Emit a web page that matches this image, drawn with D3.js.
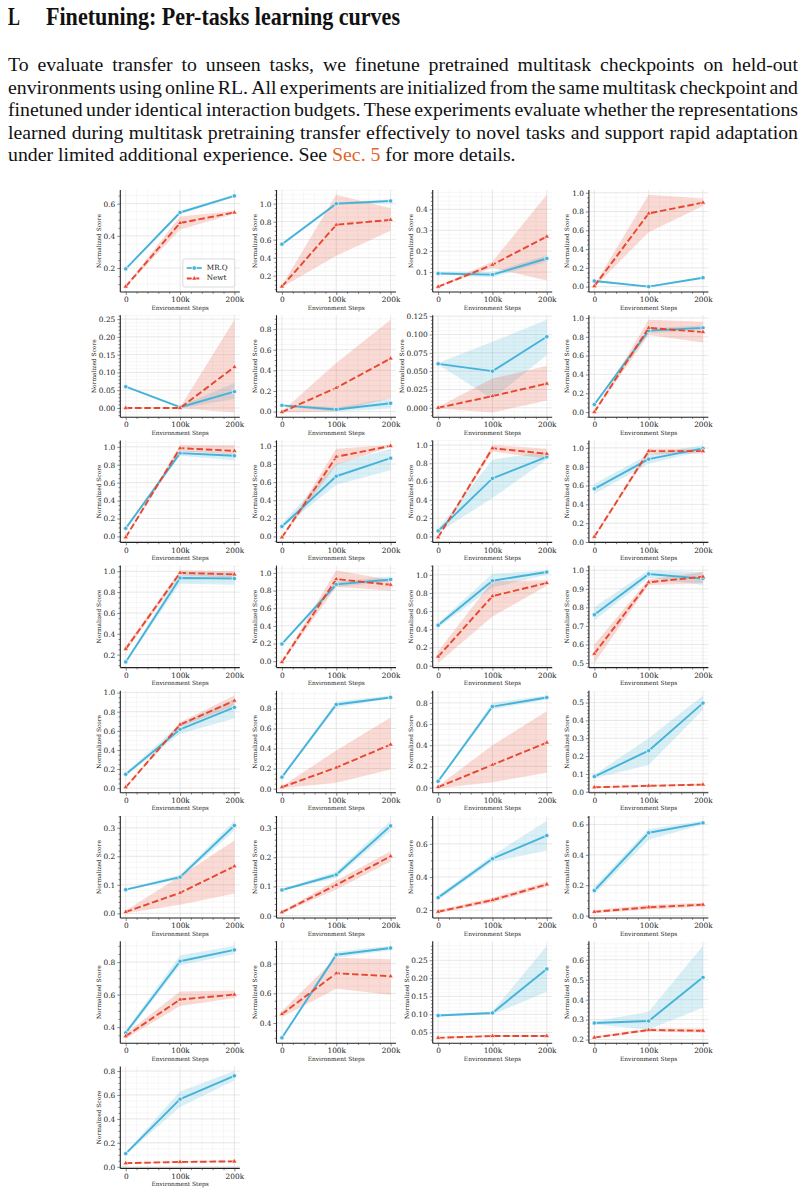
<!DOCTYPE html>
<html><head><meta charset="utf-8">
<script src="https://cdn.jsdelivr.net/npm/d3@7"></script>
<style>body{margin:0;background:#fff}svg{display:block}</style>
</head><body><svg id="c" width="806" height="1192"></svg>
<script>
// ---------------- data ----------------
const steps = [0, 100000, 200000];
const xTickLabels = ["0", "100k", "200k"];
const seriesNames = ["MR.Q", "Newt"];

const mrqMean = [
 [0.195,0.545,0.648],[0.55,1.0,1.03],[0.093,0.088,0.165],[0.06,0.0,0.095],
 [0.06,0.002,0.046],[0.06,0.02,0.08],[0.06,0.05,0.097],[0.08,0.865,0.895],
 [0.09,0.93,0.90],[0.11,0.665,0.865],[0.06,0.635,0.87],[0.565,0.88,0.995],
 [0.13,0.935,0.93],[0.195,0.87,0.925],[0.445,0.935,1.03],[0.76,0.98,0.955],
 [0.145,0.615,0.845],[0.115,0.84,0.91],[0.06,0.765,0.85],[0.085,0.23,0.497],
 [0.083,0.127,0.308],[0.088,0.14,0.307],[0.275,0.51,0.65],[0.165,0.545,0.61],
 [0.365,0.805,0.875],[0.30,0.86,0.905],[0.097,0.104,0.226],[0.283,0.293,0.512],
 [0.11,0.565,0.76]
];
const mrqLo = [
 [0.19,0.535,0.64],[0.535,0.985,1.015],[0.088,0.075,0.15],[0.05,-0.008,0.085],
 [0.058,-0.001,0.025],[0.05,0.0,0.03],[0.059,0.012,0.072],[0.07,0.84,0.87],
 [0.08,0.90,0.85],[0.09,0.57,0.73],[0.04,0.42,0.84],[0.51,0.83,0.97],
 [0.12,0.88,0.87],[0.18,0.84,0.90],[0.42,0.86,1.0],[0.73,0.96,0.92],
 [0.13,0.57,0.73],[0.10,0.81,0.90],[0.05,0.74,0.83],[0.075,0.15,0.46],
 [0.08,0.12,0.29],[0.085,0.13,0.29],[0.26,0.49,0.56],[0.14,0.50,0.60],
 [0.35,0.78,0.85],[0.295,0.84,0.89],[0.095,0.10,0.163],[0.275,0.25,0.36],
 [0.10,0.50,0.72]
];
const mrqHi = [
 [0.20,0.555,0.656],[0.565,1.015,1.045],[0.098,0.10,0.18],[0.07,0.008,0.105],
 [0.062,0.005,0.07],[0.07,0.04,0.13],[0.061,0.09,0.12],[0.09,0.89,0.92],
 [0.10,0.96,0.93],[0.14,0.80,0.97],[0.08,0.84,0.93],[0.62,0.93,1.03],
 [0.14,0.99,0.99],[0.21,0.90,0.96],[0.47,1.01,1.05],[0.80,1.0,0.99],
 [0.16,0.67,0.93],[0.13,0.87,0.93],[0.07,0.80,0.87],[0.095,0.30,0.54],
 [0.086,0.135,0.325],[0.091,0.15,0.325],[0.29,0.53,0.74],[0.19,0.57,0.625],
 [0.38,0.84,0.90],[0.305,0.88,0.92],[0.10,0.108,0.29],[0.29,0.34,0.67],
 [0.12,0.63,0.80]
];
const newtMean = [
 [0.085,0.48,0.545],[0.08,0.765,0.82],[0.03,0.135,0.27],[0.005,0.78,0.895],
 [0.0,0.0,0.115],[-0.005,0.23,0.515],[0.0,0.016,0.033],[0.0,0.895,0.85],
 [-0.01,0.985,0.955],[-0.01,0.88,1.0],[-0.01,0.965,0.905],[0.055,0.965,0.965],
 [0.255,0.985,0.97],[-0.01,0.93,0.865],[0.10,0.765,0.91],[0.55,0.935,0.965],
 [0.01,0.665,0.915],[0.015,0.21,0.44],[0.005,0.215,0.425],[0.025,0.033,0.04],
 [0.005,0.072,0.165],[0.012,0.105,0.203],[0.19,0.26,0.355],[0.025,0.055,0.072],
 [0.345,0.57,0.60],[0.46,0.735,0.715],[0.035,0.04,0.04],[0.21,0.248,0.244],
 [0.03,0.04,0.045]
];
const newtLo = [
 [0.08,0.44,0.535],[0.07,0.42,0.70],[0.027,0.12,0.06],[-0.005,0.58,0.86],
 [-0.001,-0.001,-0.013],[-0.01,0.0,0.13],[-0.001,-0.0065,0.01],[-0.005,0.82,0.74],
 [-0.015,0.95,0.92],[-0.015,0.79,0.99],[-0.015,0.93,0.85],[0.045,0.93,0.94],
 [0.23,0.96,0.94],[-0.02,0.84,0.80],[0.03,0.54,0.88],[0.50,0.92,0.93],
 [0.0,0.64,0.86],[0.005,0.06,0.19],[-0.005,0.05,0.14],[0.02,0.028,0.035],
 [0.0,0.03,0.07],[0.008,0.09,0.185],[0.18,0.245,0.34],[0.015,0.04,0.06],
 [0.33,0.53,0.58],[0.44,0.63,0.59],[0.033,0.037,0.037],[0.205,0.24,0.235],
 [0.025,0.035,0.04]
];
const newtHi = [
 [0.09,0.52,0.555],[0.09,1.10,0.95],[0.033,0.15,0.47],[0.015,0.98,0.94],
 [0.001,0.001,0.248],[0.0,0.47,0.89],[0.001,0.04,0.057],[0.005,0.98,0.96],
 [-0.005,1.02,1.02],[-0.005,0.97,1.01],[-0.005,1.0,0.96],[0.065,0.99,0.99],
 [0.28,1.01,1.0],[0.0,1.03,0.92],[0.16,0.93,0.94],[0.60,0.95,0.99],
 [0.02,0.69,0.97],[0.025,0.38,0.71],[0.015,0.40,0.72],[0.03,0.038,0.045],
 [0.01,0.13,0.255],[0.016,0.12,0.22],[0.20,0.275,0.37],[0.035,0.07,0.085],
 [0.36,0.62,0.625],[0.48,0.84,0.83],[0.037,0.043,0.043],[0.215,0.255,0.255],
 [0.035,0.045,0.05]
];
const T10 = ["0.0","0.2","0.4","0.6","0.8","1.0"];
const yTickLabels = [
 ["0.2","0.4","0.6"], ["0.2","0.4","0.6","0.8","1.0"], ["0.1","0.2","0.3","0.4"], T10,
 ["0.00","0.05","0.10","0.15","0.20","0.25"], ["0.0","0.2","0.4","0.6","0.8"],
 ["0.000","0.025","0.050","0.075","0.100","0.125"], T10,
 T10, T10, T10, T10,
 ["0.2","0.4","0.6","0.8","1.0"], T10, T10, ["0.5","0.6","0.7","0.8","0.9","1.0"],
 T10, ["0.0","0.2","0.4","0.6","0.8"], ["0.0","0.2","0.4","0.6","0.8"], ["0.0","0.1","0.2","0.3","0.4","0.5"],
 ["0.0","0.1","0.2","0.3"], ["0.0","0.1","0.2","0.3"], ["0.2","0.4","0.6"], ["0.0","0.2","0.4","0.6"],
 ["0.4","0.6","0.8"], ["0.4","0.6","0.8"], ["0.05","0.10","0.15","0.20","0.25"], ["0.2","0.3","0.4","0.5","0.6"],
 ["0.0","0.2","0.4","0.6","0.8"]
];
const headingLetter = "L";
const headingText = "Finetuning: Per-tasks learning curves";
const paragraphLines = [
 "To evaluate transfer to unseen tasks, we finetune pretrained multitask checkpoints on held-out",
 "environments using online RL. All experiments are initialized from the same multitask checkpoint and",
 "finetuned under identical interaction budgets. These experiments evaluate whether the representations",
 "learned during multitask pretraining transfer effectively to novel tasks and support rapid adaptation"
];
const lastLine = ["under limited additional experience. See ", "Sec. 5", " for more details."];
const xLabel = "Environment Steps";
const yLabel = "Normalized Score";

// ---------------- drawing ----------------
const svg = d3.select("#c");
const SERIF = "'Liberation Serif','Times New Roman',serif";
const MPL = "'DejaVu Serif',serif";
const BLUE = "#45b3d9", RED = "#e8472f";

// heading
svg.append("text").attr("x", 8).attr("y", 25).attr("font-family", SERIF)
  .attr("font-weight", "bold").attr("font-size", 25).attr("fill", "#111")
  .attr("textLength", 12).attr("lengthAdjust", "spacingAndGlyphs").text(headingLetter);
svg.append("text").attr("x", 46).attr("y", 25).attr("font-family", SERIF)
  .attr("font-weight", "bold").attr("font-size", 25).attr("fill", "#111")
  .attr("textLength", 354).attr("lengthAdjust", "spacingAndGlyphs").text(headingText);

// justified paragraph
const PX0 = 8, PX1 = 798, PFS = 19.8, LH = 22.5, B0 = 71;
paragraphLines.forEach((line, i) => {
  const yb = B0 + i * LH;
  const words = line.split(" ");
  const g = svg.append("g");
  const nodes = words.map(w => g.append("text").attr("font-family", SERIF).attr("font-size", PFS)
     .attr("fill", "#111").attr("y", yb).text(w));
  const widths = nodes.map(n => n.node().getComputedTextLength());
  const total = d3.sum(widths);
  let gap = (PX1 - PX0 - total) / (words.length - 1);
  let sx = 1;
  const minGap = 3.2;
  if (gap < minGap) { sx = (PX1 - PX0 - minGap * (words.length - 1)) / total; gap = minGap; }
  let x = PX0;
  nodes.forEach((n, k) => {
    n.attr("x", x);
    if (sx !== 1) n.attr("textLength", widths[k] * sx).attr("lengthAdjust", "spacingAndGlyphs");
    x += widths[k] * sx + gap;
  });
});
{
  const t = svg.append("text").attr("x", PX0).attr("y", B0 + 4 * LH)
    .attr("font-family", SERIF).attr("font-size", PFS).attr("fill", "#111");
  t.append("tspan").text(lastLine[0]);
  t.append("tspan").attr("fill", "#e0662b").text(lastLine[1]);
  t.append("tspan").text(lastLine[2]);
}

// subplot grid
const W = 119.5, H = 102;
const colLeft = c => 120.3 + 156.2 * c;
const rowTop = r => 190 + 125.2 * r;

function minorTicks(vals, dom) {
  const step = vals[1] - vals[0];
  const exp = Math.floor(Math.log10(step));
  const mant = step / Math.pow(10, exp);
  const nd = [1, 2.5, 5, 10].some(m => Math.abs(m - mant) < 1e-6) ? 5 : 4;
  const ms = step / nd;
  const out = [];
  const start = Math.ceil((dom[0] - vals[0]) / ms - 1e-9);
  for (let k = start; vals[0] + k * ms <= dom[1] + 1e-12; k++) {
    const v = vals[0] + k * ms;
    if (((k % nd) + nd) % nd !== 0) out.push(v);
  }
  return out;
}

const xMinor = d3.range(0, 200001, 20000).filter(v => v % 100000 !== 0);

mrqMean.forEach((_, i) => {
  const r = Math.floor(i / 4), c = i % 4;
  const L = colLeft(c), T = rowTop(r);
  const g = svg.append("g").attr("transform", `translate(${L},${T})`);
  const all = [].concat(mrqMean[i], mrqLo[i], mrqHi[i], newtMean[i], newtLo[i], newtHi[i]);
  const lo = d3.min(all), hi = d3.max(all), pad = (hi - lo) * 0.05;
  const y = d3.scaleLinear().domain([lo - pad, hi + pad]).range([H, 0]);
  const x = d3.scaleLinear().domain([-10000, 210000]).range([0, W]);
  const yVals = yTickLabels[i].map(Number);
  const yMin = minorTicks(yVals, y.domain());

  // grid
  const gg = g.append("g");
  gg.selectAll(".ym").data(yMin).join("line").attr("x1", 0).attr("x2", W)
    .attr("y1", d => y(d)).attr("y2", d => y(d)).attr("stroke", "#efefef").attr("stroke-width", 0.5);
  gg.selectAll(".xm").data(xMinor).join("line").attr("y1", 0).attr("y2", H)
    .attr("x1", d => x(d)).attr("x2", d => x(d)).attr("stroke", "#efefef").attr("stroke-width", 0.5);
  gg.selectAll(".yM").data(yVals).join("line").attr("x1", 0).attr("x2", W)
    .attr("y1", d => y(d)).attr("y2", d => y(d)).attr("stroke", "#dcdcdc").attr("stroke-width", 0.7);
  gg.selectAll(".xM").data(steps).join("line").attr("y1", 0).attr("y2", H)
    .attr("x1", d => x(d)).attr("x2", d => x(d)).attr("stroke", "#dcdcdc").attr("stroke-width", 0.7);

  // bands
  const area = (loA, hiA) => d3.area().x((d, k) => x(steps[k])).y0((d, k) => y(loA[k])).y1((d, k) => y(hiA[k]))(steps);
  g.append("path").attr("d", area(mrqLo[i], mrqHi[i])).attr("fill", BLUE).attr("fill-opacity", 0.2);
  g.append("path").attr("d", area(newtLo[i], newtHi[i])).attr("fill", RED).attr("fill-opacity", 0.2);

  // lines
  const line = d3.line().x((d, k) => x(steps[k])).y(d => y(d));
  g.append("path").attr("d", line(mrqMean[i])).attr("fill", "none").attr("stroke", BLUE)
    .attr("stroke-width", 1.9).attr("stroke-linejoin", "round");
  g.selectAll(".mq").data(mrqMean[i]).join("circle").attr("cx", (d, k) => x(steps[k])).attr("cy", d => y(d))
    .attr("r", 2.2).attr("fill", BLUE).attr("stroke", "#fff").attr("stroke-width", 0.7);
  g.append("path").attr("d", line(newtMean[i])).attr("fill", "none").attr("stroke", RED)
    .attr("stroke-width", 1.9).attr("stroke-dasharray", "6.5,2.8");
  g.selectAll(".nw").data(newtMean[i]).join("path")
    .attr("transform", (d, k) => `translate(${x(steps[k])},${y(d)})`)
    .attr("d", d3.symbol(d3.symbolTriangle, 12)).attr("fill", RED).attr("stroke", "#fff").attr("stroke-width", 0.6);

  // axes
  const ax = d3.axisLeft(y).tickValues(yVals).tickFormat((d, k) => yTickLabels[i][k]).tickSize(3).tickPadding(2);
  const ya = g.append("g").call(ax);
  const yaMin = g.append("g").call(d3.axisLeft(y).tickValues(yMin).tickFormat("").tickSize(1.8));
  const xa = g.append("g").attr("transform", `translate(0,${H})`)
    .call(d3.axisBottom(x).tickValues(steps).tickFormat((d, k) => xTickLabels[k]).tickSize(3).tickPadding(2));
  const xaMin = g.append("g").attr("transform", `translate(0,${H})`)
    .call(d3.axisBottom(x).tickValues(xMinor).tickFormat("").tickSize(1.8));
  [ya, yaMin, xa, xaMin].forEach(a => {
    a.select(".domain").attr("stroke", "#222").attr("stroke-width", 1.1);
    a.selectAll(".tick line").attr("stroke", "#333").attr("stroke-width", 0.6);
    a.selectAll("text").attr("font-family", MPL).attr("font-size", 7.4).attr("fill", "#222");
  });
  ya.select(".domain").attr("d", `M0,0V${H}`);
  yaMin.select(".domain").remove();
  xaMin.select(".domain").remove();
  xa.select(".domain").attr("d", `M0,0H${W}`);

  // labels
  g.append("text").attr("x", W / 2).attr("y", H + 17.5).attr("text-anchor", "middle")
    .attr("font-family", MPL).attr("font-size", 5.9).attr("fill", "#222").text(xLabel);
  let minX = 0;
  ya.selectAll(".tick text").each(function () {
    minX = Math.min(minX, this.getBBox().x);
  });
  g.append("text").attr("transform", `translate(${minX - 4.2},${H / 2}) rotate(-90)`).attr("text-anchor", "middle")
    .attr("dominant-baseline", "middle")
    .attr("font-family", MPL).attr("font-size", 5.9).attr("fill", "#222").text(yLabel);

  // legend on first subplot
  if (i === 0) {
    const lg = g.append("g").attr("transform", `translate(${W - 57},${H - 33})`);
    lg.append("rect").attr("x", 0).attr("y", 0).attr("width", 52).attr("height", 28).attr("rx", 2)
      .attr("fill", "#fff").attr("fill-opacity", 0.85).attr("stroke", "#ccc").attr("stroke-width", 0.7);
    seriesNames.forEach((nm, k) => {
      const yy = 9 + k * 10.5;
      const col = k === 0 ? BLUE : RED;
      lg.append("line").attr("x1", 4).attr("x2", 19).attr("y1", yy).attr("y2", yy).attr("stroke", col)
        .attr("stroke-width", 1.8).attr("stroke-dasharray", k === 0 ? null : "5,2.5");
      if (k === 0) lg.append("circle").attr("cx", 11.5).attr("cy", yy).attr("r", 2.2).attr("fill", BLUE)
        .attr("stroke", "#fff").attr("stroke-width", 0.7);
      else lg.append("path").attr("transform", `translate(11.5,${yy})`).attr("d", d3.symbol(d3.symbolTriangle, 12))
        .attr("fill", RED).attr("stroke", "#fff").attr("stroke-width", 0.6);
      lg.append("text").attr("x", 24).attr("y", yy).attr("dominant-baseline", "middle")
        .attr("font-family", MPL).attr("font-size", 7.2).attr("fill", "#222").text(nm);
    });
  }
});
</script>
</body></html>
